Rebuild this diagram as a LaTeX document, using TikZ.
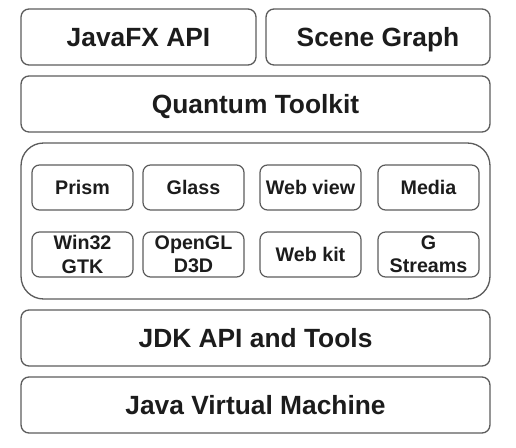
\documentclass[tikz,border=0pt]{standalone}
\usepackage{fontspec}
\setmainfont{Liberation Sans}
\usepackage{xcolor}
\usepackage{tikz}
\usetikzlibrary{calc,positioning}
\definecolor{fxEdge}{RGB}{92,92,92}
\definecolor{fxText}{RGB}{28,28,28}

\tikzset{
  layerbox/.style={draw=fxEdge, line width=0.75pt, rounded corners=0.16cm,
    minimum height=1.12cm, inner sep=0pt, text=fxText,
    text height=10.7pt, text depth=0pt,
    font=\fontsize{15}{18}\selectfont\bfseries},
  modbox/.style={draw=fxEdge, line width=0.7pt, rounded corners=0.15cm,
    minimum width=2.02cm, minimum height=0.9cm, inner sep=0pt, align=center,
    text=fxText, font=\fontsize{11.2}{13.2}\selectfont\bfseries}
}

\begin{document}
\begin{tikzpicture}[x=0.02cm,y=-0.02cm]
\useasboundingbox (0,0) rectangle (516,448);

% top layers
\node[layerbox, minimum width=4.70cm] (javafx) at (138.5,37) {JavaFX API};
\node[layerbox, minimum width=4.48cm] (scene) at (378,37) {Scene Graph};
\node[layerbox, minimum width=9.38cm] (quantum) at (255.5,104) {Quantum Toolkit};

% toolkit container
\node[draw=fxEdge, line width=0.75pt, rounded corners=0.45cm,
  minimum width=9.38cm, minimum height=3.12cm] (tk) at (255.5,221) {};

\foreach \name/\x/\y/\txt in {
  prism/82.5/187.5/Prism, glass/193.5/187.5/Glass,
  webview/310.5/187.5/Web view, media/428.5/187.5/Media,
  win/82.5/254.5/{Win32\\GTK}, ogl/193.5/254.5/{OpenGL\\D3D},
  webkit/310.5/254.5/Web kit, gst/428.5/254.5/{G\\Streams}}{
  \node[modbox] (\name) at (\x,\y) {\txt};
}

% bottom layers
\node[layerbox, minimum width=9.38cm] (jdk) at (255.5,338) {JDK API and Tools};
\node[layerbox, minimum width=9.38cm] (jvm) at (255.5,405) {Java Virtual Machine};
\end{tikzpicture}
\end{document}
